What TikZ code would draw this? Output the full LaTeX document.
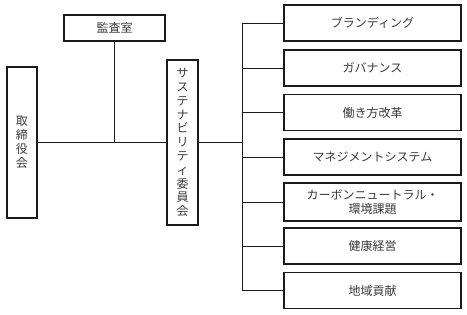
\documentclass[tikz,border=0pt]{standalone}
\usepackage{fontspec}
\newfontfamily\jpfont{Noto Sans CJK JP}
\usetikzlibrary{calc}
\definecolor{linie}{HTML}{1A1A1A}
\definecolor{schrift}{HTML}{3A3A3A}
\tikzset{
  kasten/.style={draw=linie,line width=1.6pt,inner sep=0pt,align=center,text=schrift,font=\jpfont\fontsize{12}{13.8}\selectfont},
  zweig/.style={kasten,minimum width=177pt,minimum height=36pt},
  verb/.style={linie,line width=0.9pt},
}
\begin{document}
\begin{tikzpicture}[x=1pt,y=-1pt]
  \useasboundingbox (0,0) rectangle (467,315);
  \node[kasten,minimum width=101pt,minimum height=26pt] (audit) at (114.5,28) {監査室};
  \node[kasten,minimum width=30pt,minimum height=151pt] (board) at (22,142.5) {取\\締\\役\\会};
  \node[kasten,minimum width=31pt,minimum height=165pt] (komitee) at (182.5,142.5) {サ\\ス\\テ\\ナ\\ビ\\リ\\テ\\ィ\\委\\員\\会};
  \node[zweig] (ast1) at (372.5,23) {ブランディング};
  \node[zweig] (ast2) at (372.5,68) {ガバナンス};
  \node[zweig] (ast3) at (372.5,112.5) {働き方改革};
  \node[zweig] (ast4) at (372.5,157) {マネジメントシステム};
  \node[zweig,minimum height=38pt] (ast5) at (372.5,202) {カーボンニュートラル・\\環境課題};
  \node[zweig] (ast6) at (372.5,246) {健康経営};
  \node[zweig] (ast7) at (372.5,290.5) {地域貢献};
  \coordinate (stamm) at (242,142.5);
  % Verbindungen
  \draw[verb] (board.east) -- (komitee.west);
  \draw[verb] (audit.south) -- (audit.south |- board.east);
  \draw[verb] (komitee.east) -- (stamm);
  \draw[verb] (ast1.west -| stamm) -- (ast7.west -| stamm);
  \draw[verb] (ast1.west -| stamm) -- (ast1.west);
  \draw[verb] (ast2.west -| stamm) -- (ast2.west);
  \draw[verb] (ast3.west -| stamm) -- (ast3.west);
  \draw[verb] (ast4.west -| stamm) -- (ast4.west);
  \draw[verb] (ast5.west -| stamm) -- (ast5.west);
  \draw[verb] (ast6.west -| stamm) -- (ast6.west);
  \draw[verb] (ast7.west -| stamm) -- (ast7.west);
\end{tikzpicture}
\end{document}
